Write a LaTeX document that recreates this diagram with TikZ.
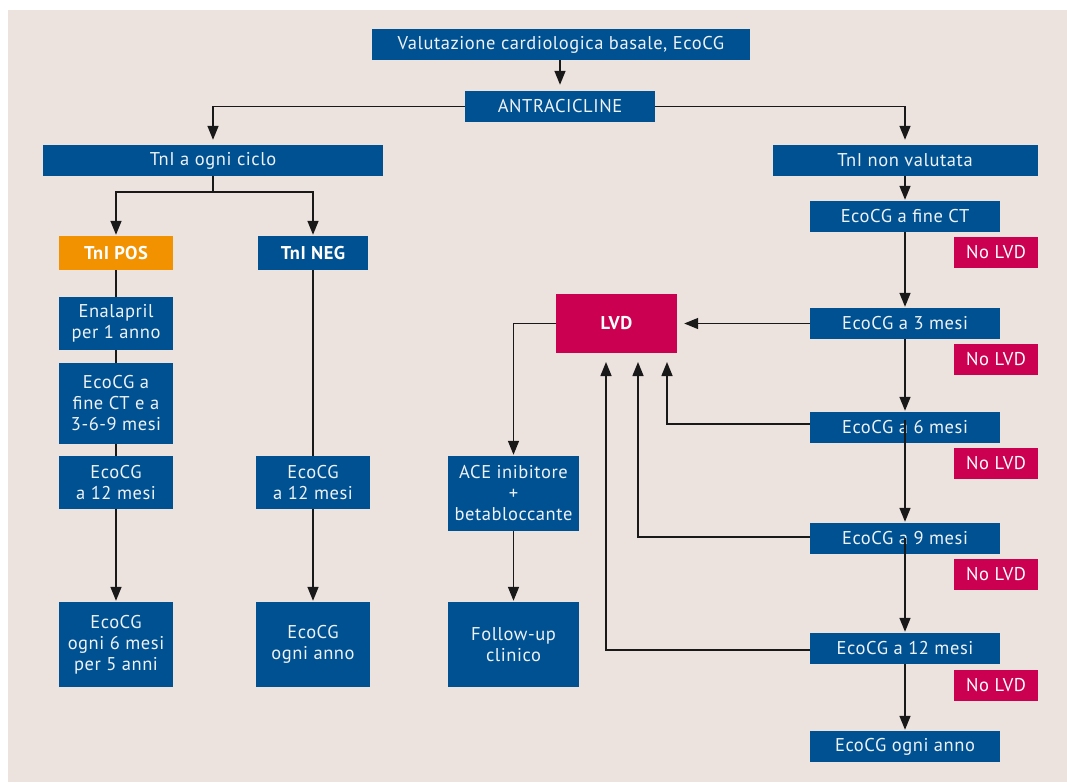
\documentclass[tikz,border=0pt]{standalone}
\usepackage{fontspec}
\setmainfont{PT Sans}
\usetikzlibrary{arrows.meta}
\definecolor{pageBg}{RGB}{236,227,222}
\definecolor{boxBlue}{RGB}{0,81,146}
\definecolor{boxPink}{RGB}{204,0,81}
\definecolor{boxOrange}{RGB}{243,146,0}
\definecolor{lineInk}{RGB}{25,25,25}
\definecolor{boxText}{RGB}{238,242,247}
\newcommand{\boxfont}{\fontsize{18.5}{21}\selectfont\addfontfeatures{LetterSpace=3}}
\begin{document}
\begin{tikzpicture}[x=1pt,y=-1pt,
  box/.style={rectangle, inner sep=0pt, align=center, text=boxText,
    font=\boxfont},
  bluebox/.style={box, fill=boxBlue},
  pinkbox/.style={box, fill=boxPink, text=white},
  orangebox/.style={box, fill=boxOrange, text=white},
  boldbox/.style={font=\boxfont\bfseries, text=white},
  wh/.style 2 args={minimum width=#1pt, minimum height=#2pt},
  link/.style={draw=lineInk, line width=1.5pt},
  arr/.style={link, -{Triangle[length=14pt,width=11pt]}, shorten >=1pt}]
% page
\fill[white] (0,0) rectangle (1067,782);
\fill[pageBg] (8,10) rectangle (1067,782);
\useasboundingbox (0,0) rectangle (1067,782);

% top level
\node[bluebox, wh={378}{31}] (base) at (561,44.5) {Valutazione cardiologica basale, EcoCG};
\node[bluebox, wh={190}{31}] (antr) at (560,106.5) {ANTRACICLINE};
\node[bluebox, wh={340}{31}] (tnia) at (213,160.5) {TnI a ogni ciclo};
\node[bluebox, wh={265}{31}] (tnin) at (905,160.5) {TnI non valutata};

% left branch: troponin measured
\node[orangebox, boldbox, wh={114}{34}] (pos) at (116,253) {TnI POS};
\node[bluebox, boldbox, wh={110}{34}] (neg) at (313,253) {TnI NEG};
\node[bluebox, wh={114}{53}] (enal) at (116,323.5) {Enalapril\\per 1 anno};
\node[bluebox, wh={114}{81}] (ecoct) at (116,403.5) {EcoCG a\\fine CT e a\\3-6-9 mesi};
\node[bluebox, wh={114}{53}] (posy) at (116,482.5) {EcoCG\\a 12 mesi};
\node[bluebox, wh={114}{85}] (posfu) at (116,644.5) {EcoCG\\ogni 6 mesi\\per 5 anni};
\node[bluebox, wh={114}{53}] (negy) at (313,482.5) {EcoCG\\a 12 mesi};
\node[bluebox, wh={114}{85}] (negfu) at (313,644.5) {EcoCG\\ogni anno};

% centre: dysfunction and treatment
\node[pinkbox, boldbox, wh={121}{59}] (lvd) at (616.5,323.5) {LVD};
\node[bluebox, wh={131}{75}] (ace) at (513.5,493.5) {ACE inibitore\\+\\betabloccante};
\node[bluebox, wh={131}{85}] (clin) at (513.5,644.5) {Follow-up\\clinico};

% right branch: troponin not measured
\node[bluebox, wh={190}{31}] (m0) at (905,216.5) {EcoCG a fine CT};
\node[bluebox, wh={190}{31}] (m3) at (905,323.5) {EcoCG a 3 mesi};
\node[bluebox, wh={190}{31}] (m6) at (905,427.5) {EcoCG a 6 mesi};
\node[bluebox, wh={190}{31}] (m9) at (905,538.5) {EcoCG a 9 mesi};
\node[bluebox, wh={190}{31}] (m12) at (905,648.5) {EcoCG a 12 mesi};
\node[bluebox, wh={190}{31}] (yearly) at (905,746.5) {EcoCG ogni anno};
\node[pinkbox, wh={84}{31}] (n0) at (996,252.5) {No LVD};
\node[pinkbox, wh={84}{31}] (n3) at (996,359.5) {No LVD};
\node[pinkbox, wh={84}{31}] (n6) at (996,463.5) {No LVD};
\node[pinkbox, wh={84}{31}] (n9) at (996,574.5) {No LVD};
\node[pinkbox, wh={84}{31}] (n12) at (996,685.5) {No LVD};

% junctions and arrow targets below LVD
\coordinate (split) at (213,192);
\coordinate (up12) at (606,353);
\coordinate (up9) at (638,353);
\coordinate (up6) at (667,353);

% connectors
\draw[arr, shorten >=6pt] (base.south -| antr.north) -- (antr.north);
\draw[arr, shorten >=5pt] (antr.west) -| (tnia.north);
\draw[arr, shorten >=5pt] (antr.east) -| (tnin.north);
\draw[link] (tnia.south) -- (split);
\draw[arr] (split) -| (pos.north);
\draw[arr] (split) -| (neg.north);

\draw[link] (pos.south) -- (enal.north);
\draw[link] (enal.south) -- (ecoct.north);
\draw[link] (ecoct.south) -- (posy.north);
\draw[arr] (posy.south) -- (posfu.north);
\draw[link] (neg.south) -- (negy.north);
\draw[arr] (negy.south) -- (negfu.north);

\draw[arr] (tnin.south) -- (m0.north);
\draw[arr] (m0.south) -- (m3.north);
\draw[arr] (m3.south) -- (m6.north);
\draw[arr] ([yshift=8pt]m6.center) -- (m9.north);
\draw[arr] ([yshift=1pt]m9.center) -- (m12.north);
\draw[arr] (m12.south) -- (yearly.north);

\draw[arr, shorten >=7pt] (m3.west) -- (lvd.east);
\draw[arr, shorten >=9pt] ([yshift=3.5pt]m6.west) -| (up6);
\draw[arr, shorten >=9pt] ([yshift=1.5pt]m9.west) -| (up9);
\draw[arr, shorten >=9pt] ([yshift=-1.5pt]m12.west) -| (up12);
\draw[arr] (lvd.west) -| (ace.north);
\draw[arr] (ace.south) -- (clin.north);
\end{tikzpicture}
\end{document}
